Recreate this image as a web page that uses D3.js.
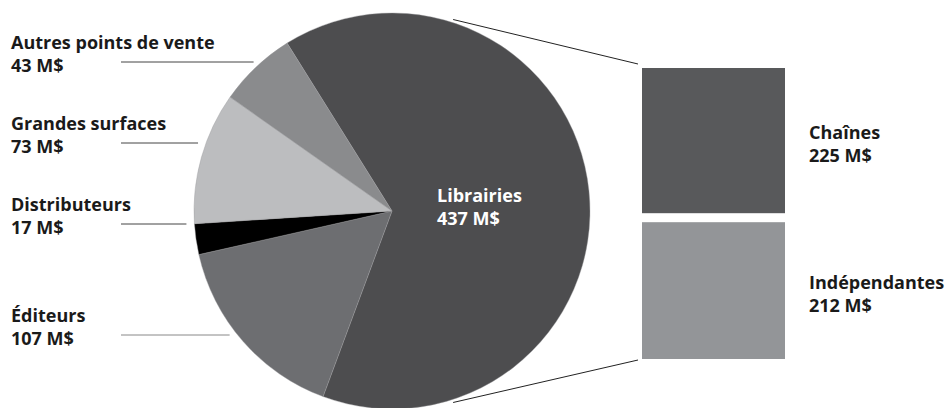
<!DOCTYPE html>
<html>
<head>
<meta charset="utf-8">
<script src="https://cdn.jsdelivr.net/npm/d3@7"></script>
<style>
  body { margin: 0; background: #fff; }
  text { font-family: "Open Sans", sans-serif; font-weight: bold; }
</style>
</head>
<body>
<script>
// pie slices, clockwise from the top-left edge of Librairies
var categories = ["Librairies", "Éditeurs", "Distributeurs", "Grandes surfaces", "Autres points de vente"];
var values = [437, 107, 17, 73, 43];
var colors = ["#4d4d4f", "#6d6e71", "#000000", "#bcbdbf", "#8a8b8d"];

// breakdown of Librairies
var subCategories = ["Chaînes", "Indépendantes"];
var subValues = [225, 212];
var subColors = ["#58595b", "#939598"];

var W = 946, H = 408;
var cx = 392, cy = 211, radius = 198;

var svg = d3.select("body").append("svg").attr("width", W).attr("height", H);

var pie = d3.pie().sort(null)
  .startAngle(-32 * Math.PI / 180)
  .endAngle(328 * Math.PI / 180);
var arc = d3.arc().innerRadius(0).outerRadius(radius);

var slices = values.map(function(v, i) {
  return { name: categories[i], value: v, color: colors[i] };
});

var g = svg.append("g").attr("transform", "translate(" + cx + "," + cy + ")");
g.selectAll("path").data(pie.value(function(d) { return d.value; })(slices)).enter().append("path")
  .attr("d", arc)
  .attr("fill", function(d) { return d.data.color; })
  .attr("stroke", "#9a9a9c")
  .attr("stroke-width", 0.4);

// label inside Librairies
var inner = svg.append("text").attr("x", 437).attr("y", 202).attr("fill", "#fff").style("font-size", "18px");
inner.append("tspan").text(categories[0]);
inner.append("tspan").attr("x", 437).attr("dy", 23).text(values[0] + " M$");

// left labels: [index, leader y]
var leftLabels = [[4, 62], [3, 143], [2, 224], [1, 335]];
leftLabels.forEach(function(l) {
  var i = l[0], ly = l[1];
  var t = svg.append("text").attr("x", 11).attr("y", ly - 13).attr("fill", "#1a1a1a").style("font-size", "18px");
  t.append("tspan").text(categories[i]);
  t.append("tspan").attr("x", 11).attr("dy", 23).text(values[i] + " M$");
  var edge = cx - Math.sqrt(radius * radius - (ly - cy) * (ly - cy));
  svg.append("line")
    .attr("x1", 121).attr("x2", edge - 8)
    .attr("y1", ly).attr("y2", ly)
    .attr("stroke", i == 1 ? "#888" : "#444").attr("stroke-width", 1);
});

// stacked breakdown bars
var rx = 642, rw = 143, top0 = 68, gap = 9;
var h = d3.scaleLinear().domain([0, d3.sum(subValues)]).range([0, 291 - gap]);
var y0 = top0;
subValues.forEach(function(v, i) {
  svg.append("rect").attr("x", rx).attr("y", y0).attr("width", rw).attr("height", h(v)).attr("fill", subColors[i]);
  var my = y0 + h(v) / 2;
  var t = svg.append("text").attr("x", 809).attr("y", my - 2).attr("fill", "#1a1a1a").style("font-size", "18px");
  t.append("tspan").text(subCategories[i]);
  t.append("tspan").attr("x", 809).attr("dy", 23).text(v + " M$");
  y0 += h(v) + gap;
});

// connector lines from the pie to the bars
var a = 17.7 * Math.PI / 180, rr = radius + 3;
var bottom = top0 + 291;
[[a, top0 - 4], [Math.PI - a, bottom + 1]].forEach(function(c) {
  svg.append("line")
    .attr("x1", cx + rr * Math.sin(c[0])).attr("y1", cy - rr * Math.cos(c[0]))
    .attr("x2", rx - 4).attr("y2", c[1])
    .attr("stroke", "#222").attr("stroke-width", 1);
});
</script>
</body>
</html>
